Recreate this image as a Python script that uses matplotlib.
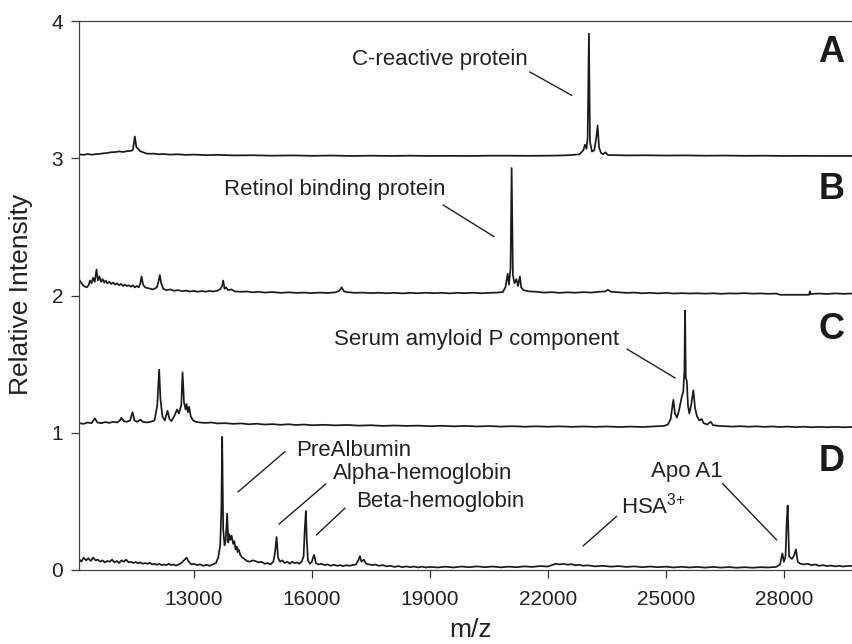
import matplotlib
matplotlib.use("Agg")
import matplotlib.pyplot as plt

plt.rcParams["font.family"] = ["Liberation Sans", "DejaVu Sans"]
plt.rcParams["mathtext.fontset"] = "custom"
plt.rcParams["mathtext.rm"] = "Liberation Sans"
plt.rcParams["mathtext.it"] = "Liberation Sans"
plt.rcParams["mathtext.bf"] = "Liberation Sans:bold"

# spectra: (m/z, intensity above own baseline)
mzA = [10080, 10200, 10300, 10400, 10500, 10600, 10700, 10800, 10900, 11000, 11100, 11200, 11300,
       11400, 11450, 11500, 11540, 11580, 11620, 11700, 11800, 11900, 12000, 12100, 12200, 12400,
       12600, 12800, 13000, 13300, 13600, 14000, 14500, 15000, 15500, 16000, 16500, 17000, 17500,
       18000, 18500, 19000, 19500, 20000, 20500, 21000, 21500, 22000, 22400, 22600, 22800, 22900,
       22941, 22980, 23010, 23043, 23070, 23120, 23180, 23230, 23264, 23300, 23350, 23400, 23465,
       23520, 23700, 24000, 24500, 25000, 25500, 26000, 26500, 27000, 27500, 28000, 28500, 29000, 29730]
intA = [0.030, 0.026, 0.032, 0.027, 0.031, 0.033, 0.037, 0.040, 0.045, 0.046, 0.051, 0.047, 0.053,
        0.055, 0.062, 0.160, 0.080, 0.072, 0.055, 0.046, 0.035, 0.034, 0.035, 0.030, 0.032, 0.028,
        0.030, 0.026, 0.028, 0.024, 0.026, 0.022, 0.023, 0.020, 0.022, 0.019, 0.021, 0.018, 0.020,
        0.018, 0.020, 0.018, 0.019, 0.018, 0.020, 0.020, 0.019, 0.020, 0.022, 0.025, 0.030, 0.060,
        0.100, 0.070, 0.150, 0.910, 0.120, 0.050, 0.060, 0.150, 0.240, 0.080, 0.040, 0.030, 0.045,
        0.025, 0.024, 0.022, 0.023, 0.021, 0.022, 0.020, 0.021, 0.019, 0.020, 0.018, 0.019, 0.018, 0.018]

mzB = [10080, 10120, 10160, 10200, 10240, 10280, 10320, 10360, 10400, 10440, 10480, 10526, 10560,
       10600, 10640, 10680, 10720, 10760, 10800, 10850, 10900, 10950, 11000, 11050, 11100, 11150,
       11200, 11250, 11300, 11350, 11400, 11450, 11500, 11550, 11600, 11640, 11670, 11710, 11760,
       11820, 11900, 11950, 12000, 12060, 12100, 12135, 12170, 12220, 12300, 12400, 12500, 12600,
       12700, 12800, 12900, 13000, 13100, 13200, 13300, 13400, 13500, 13600, 13680, 13720, 13745,
       13780, 13820, 13870, 13950, 14050, 14200, 14350, 14500, 14650, 14800, 15000, 15200, 15400,
       15600, 15800, 16000, 16200, 16400, 16600, 16700, 16756, 16820, 16900, 17100, 17300, 17500,
       17700, 17900, 18100, 18300, 18500, 18700, 18900, 19100, 19300, 19500, 19700, 19900, 20100,
       20300, 20500, 20700, 20850, 20920, 20977, 21010, 21050, 21078, 21110, 21150, 21200, 21240,
       21289, 21320, 21380, 21450, 21550, 21700, 21900, 22100, 22300, 22500, 22700, 22900, 23100,
       23300, 23450, 23526, 23600, 23800, 24000, 24200, 24400, 24600, 24800, 25000, 25200, 25400,
       25600, 25800, 26000, 26200, 26400, 26600, 26800, 27000, 27200, 27400, 27600, 27800, 27900,
       28640, 28660, 28680, 28900, 29100, 29300, 29500, 29730]
intB = [0.120, 0.100, 0.085, 0.070, 0.065, 0.060, 0.075, 0.110, 0.090, 0.130, 0.100, 0.190, 0.110,
        0.140, 0.100, 0.120, 0.095, 0.110, 0.090, 0.100, 0.085, 0.095, 0.080, 0.090, 0.075, 0.085,
        0.070, 0.080, 0.070, 0.075, 0.065, 0.075, 0.060, 0.070, 0.060, 0.090, 0.140, 0.080, 0.060,
        0.055, 0.050, 0.045, 0.050, 0.060, 0.100, 0.150, 0.090, 0.050, 0.040, 0.045, 0.035, 0.040,
        0.032, 0.036, 0.030, 0.034, 0.028, 0.033, 0.029, 0.034, 0.030, 0.036, 0.050, 0.070, 0.110,
        0.050, 0.060, 0.040, 0.045, 0.030, 0.028, 0.030, 0.024, 0.028, 0.022, 0.026, 0.020, 0.024,
        0.020, 0.022, 0.018, 0.022, 0.019, 0.024, 0.035, 0.060, 0.030, 0.025, 0.020, 0.022, 0.018,
        0.021, 0.017, 0.020, 0.016, 0.020, 0.017, 0.021, 0.018, 0.020, 0.016, 0.020, 0.018, 0.021,
        0.017, 0.020, 0.022, 0.025, 0.060, 0.160, 0.080, 0.200, 0.930, 0.150, 0.090, 0.120, 0.070,
        0.140, 0.060, 0.040, 0.035, 0.030, 0.028, 0.022, 0.025, 0.020, 0.024, 0.021, 0.025, 0.022,
        0.028, 0.030, 0.042, 0.028, 0.024, 0.020, 0.022, 0.017, 0.020, 0.016, 0.020, 0.015, 0.018,
        0.015, 0.017, 0.014, 0.017, 0.013, 0.016, 0.015, 0.018, 0.014, 0.016, 0.013, 0.015, 0.006,
        0.006, 0.030, 0.012, 0.015, 0.012, 0.016, 0.013, 0.015]

mzC = [10080, 10200, 10300, 10400, 10483, 10550, 10650, 10750, 10850, 10950, 11050, 11120, 11161,
       11220, 11300, 11380, 11441, 11490, 11560, 11640, 11700, 11800, 11900, 12000, 12070, 12118,
       12150, 12200, 12260, 12331, 12380, 12430, 12500, 12575, 12620, 12680, 12713, 12750, 12790,
       12814, 12850, 12880, 12920, 12980, 13050, 13150, 13300, 13450, 13600, 13800, 14000, 14200,
       14400, 14600, 14800, 15000, 15200, 15400, 15600, 15800, 16000, 16300, 16600, 16900, 17200,
       17500, 17800, 18100, 18400, 18700, 19000, 19300, 19600, 19900, 20200, 20500, 20800, 21100,
       21400, 21700, 22000, 22300, 22600, 22900, 23200, 23500, 23800, 24100, 24400, 24700, 24950,
       25050, 25120, 25188, 25230, 25280, 25330, 25401, 25440, 25470, 25486, 25505, 25530, 25560,
       25595, 25640, 25697, 25740, 25790, 25850, 25910, 25960, 26050, 26139, 26200, 26350, 26500,
       26700, 26900, 27100, 27300, 27500, 27700, 27900, 28100, 28300, 28500, 28700, 28900, 29100,
       29300, 29500, 29730]
intC = [0.070, 0.065, 0.075, 0.070, 0.105, 0.075, 0.070, 0.078, 0.072, 0.080, 0.075, 0.090, 0.110,
        0.085, 0.080, 0.090, 0.150, 0.090, 0.080, 0.095, 0.080, 0.075, 0.080, 0.090, 0.200, 0.460,
        0.250, 0.120, 0.090, 0.160, 0.100, 0.085, 0.120, 0.170, 0.140, 0.200, 0.440, 0.220, 0.170,
        0.210, 0.150, 0.190, 0.120, 0.090, 0.080, 0.075, 0.072, 0.075, 0.068, 0.070, 0.065, 0.068,
        0.062, 0.066, 0.060, 0.063, 0.058, 0.062, 0.057, 0.060, 0.055, 0.058, 0.054, 0.057, 0.052,
        0.055, 0.050, 0.053, 0.050, 0.052, 0.048, 0.051, 0.047, 0.050, 0.046, 0.049, 0.045, 0.048,
        0.044, 0.047, 0.044, 0.047, 0.043, 0.046, 0.043, 0.046, 0.042, 0.045, 0.042, 0.046, 0.050,
        0.060, 0.100, 0.240, 0.140, 0.110, 0.160, 0.260, 0.300, 0.450, 0.890, 0.400, 0.380, 0.200,
        0.140, 0.200, 0.310, 0.180, 0.120, 0.090, 0.100, 0.070, 0.060, 0.080, 0.055, 0.050, 0.048,
        0.045, 0.048, 0.044, 0.047, 0.043, 0.046, 0.042, 0.045, 0.041, 0.044, 0.040, 0.043, 0.040,
        0.043, 0.040, 0.042]

mzD = [10080, 10140, 10200, 10260, 10320, 10380, 10440, 10500, 10560, 10620, 10680, 10740, 10800,
       10860, 10920, 10980, 11040, 11100, 11160, 11220, 11280, 11340, 11400, 11460, 11520, 11580,
       11640, 11700, 11760, 11820, 11880, 11940, 12000, 12060, 12120, 12180, 12240, 12300, 12360,
       12420, 12480, 12540, 12600, 12680, 12750, 12814, 12870, 12940, 13000, 13080, 13160, 13240,
       13320, 13400, 13480, 13560, 13620, 13670, 13700, 13720, 13745, 13780, 13810, 13847, 13875,
       13900, 13930, 13960, 13999, 14030, 14060, 14090, 14111, 14140, 14180, 14230, 14290, 14350,
       14420, 14500, 14560, 14640, 14720, 14800, 14880, 14950, 15020, 15060, 15103, 15140, 15190,
       15250, 15310, 15380, 15440, 15500, 15560, 15620, 15680, 15740, 15790, 15820, 15848, 15870,
       15900, 15950, 16000, 16030, 16059, 16100, 16160, 16240, 16320, 16400, 16480, 16560, 16640,
       16720, 16800, 16880, 16960, 17040, 17120, 17180, 17221, 17260, 17320, 17380, 17460, 17540,
       17620, 17700, 17800, 17900, 18000, 18100, 18200, 18300, 18400, 18500, 18600, 18700, 18800,
       18900, 19000, 19200, 19400, 19600, 19800, 20000, 20200, 20400, 20600, 20800, 21000, 21200,
       21400, 21600, 21800, 22000, 22100, 22200, 22300, 22400, 22500, 22600, 22700, 22800, 22900,
       23000, 23200, 23400, 23600, 23800, 24000, 24200, 24400, 24600, 24800, 25000, 25200, 25400,
       25600, 25800, 26000, 26200, 26400, 26600, 26800, 27000, 27200, 27400, 27600, 27800, 27900,
       27960, 28000, 28040, 28070, 28095, 28130, 28200, 28250, 28306, 28350, 28420, 28500, 28600,
       28700, 28800, 28900, 29000, 29100, 29200, 29300, 29400, 29500, 29600, 29730]
intD = [0.080, 0.060, 0.090, 0.070, 0.085, 0.065, 0.090, 0.070, 0.075, 0.060, 0.070, 0.055, 0.065,
        0.060, 0.075, 0.055, 0.065, 0.050, 0.070, 0.060, 0.075, 0.055, 0.060, 0.050, 0.058, 0.048,
        0.055, 0.045, 0.050, 0.045, 0.052, 0.040, 0.045, 0.038, 0.045, 0.035, 0.040, 0.035, 0.045,
        0.035, 0.040, 0.032, 0.038, 0.050, 0.070, 0.090, 0.060, 0.040, 0.045, 0.035, 0.040, 0.030,
        0.038, 0.030, 0.040, 0.050, 0.090, 0.180, 0.450, 0.970, 0.300, 0.180, 0.220, 0.410, 0.200,
        0.260, 0.220, 0.250, 0.190, 0.210, 0.150, 0.170, 0.130, 0.150, 0.110, 0.090, 0.080, 0.065,
        0.060, 0.070, 0.065, 0.055, 0.060, 0.045, 0.050, 0.040, 0.060, 0.120, 0.240, 0.090, 0.060,
        0.070, 0.050, 0.060, 0.045, 0.060, 0.050, 0.055, 0.045, 0.060, 0.100, 0.300, 0.430, 0.220,
        0.070, 0.045, 0.060, 0.090, 0.110, 0.050, 0.040, 0.045, 0.035, 0.040, 0.030, 0.038, 0.030,
        0.035, 0.028, 0.035, 0.030, 0.036, 0.040, 0.070, 0.100, 0.060, 0.075, 0.045, 0.040, 0.035,
        0.040, 0.030, 0.035, 0.026, 0.030, 0.022, 0.028, 0.020, 0.026, 0.020, 0.025, 0.018, 0.024,
        0.018, 0.022, 0.018, 0.024, 0.018, 0.025, 0.020, 0.026, 0.020, 0.025, 0.019, 0.024, 0.020,
        0.026, 0.022, 0.028, 0.025, 0.035, 0.045, 0.040, 0.045, 0.038, 0.042, 0.034, 0.038, 0.030,
        0.034, 0.026, 0.030, 0.024, 0.028, 0.022, 0.026, 0.020, 0.025, 0.020, 0.024, 0.018, 0.023,
        0.018, 0.022, 0.017, 0.022, 0.017, 0.021, 0.016, 0.020, 0.016, 0.020, 0.018, 0.022, 0.040,
        0.120, 0.060, 0.100, 0.350, 0.470, 0.100, 0.080, 0.100, 0.150, 0.060, 0.045, 0.040, 0.045,
        0.035, 0.040, 0.030, 0.035, 0.028, 0.032, 0.026, 0.030, 0.025, 0.028, 0.030]

panels = ["A", "B", "C", "D"]
offsets = [3, 2, 1, 0]
xticks = [13000, 16000, 19000, 22000, 25000, 28000]
yticks = [0, 1, 2, 3, 4]

# label text, text anchor (m/z, y, ha), leader line from -> to
labels = [
    ("C-reactive protein", 21500, 3.72, "right", (21543, 3.63), (22603, 3.46)),
    ("Retinol binding protein", 19400, 2.77, "right", (19339, 2.66), (20628, 2.43)),
    ("Serum amyloid P component", 23800, 1.68, "right", (24013, 1.61), (25230, 1.40)),
    ("PreAlbumin", 15610, 0.874, "left", (15314, 0.862), (14127, 0.57)),
    ("Alpha-hemoglobin", 16540, 0.70, "left", (16356, 0.627), (15169, 0.335)),
    ("Beta-hemoglobin", 17135, 0.50, "left", (16839, 0.45), (16115, 0.255)),
    ("HSA$^{3{+}}$", 23860, 0.47, "left", (23744, 0.39), (22896, 0.175)),
    ("Apo A1", 24630, 0.716, "left", (26438, 0.63), (27810, 0.22)),
]
letter_y = [3.77, 2.77, 1.75, 0.79]

fig = plt.figure(figsize=(8.52, 6.44), dpi=100)
ax = fig.add_axes([0.0927, 0.115, 0.9073, 0.852])

spectra = [(mzA, intA), (mzB, intB), (mzC, intC), (mzD, intD)]
for (mz, inten), off in zip(spectra, offsets):
    ax.plot(mz, [v + off for v in inten], color="#1a1a1a", linewidth=1.25)

for txt, tx, ty, ha, p0, p1 in labels:
    ax.text(tx, ty, txt, ha=ha, va="center", fontsize=16, color="#222222")
    ax.plot([p0[0], p1[0]], [p0[1], p1[1]], color="#222222", linewidth=1.0)

for p, ly in zip(panels, letter_y):
    ax.text(29530, ly, p, ha="right", va="center", fontsize=26, fontweight="bold", color="#1a1a1a")

ax.set_xlim(10080, 29730)
ax.set_ylim(0, 4)
ax.set_xticks(xticks)
ax.set_yticks(yticks)
ax.tick_params(axis="both", direction="out", length=5.5, width=0.9, labelsize=15,
               colors="#333333", labelcolor="#222222")
ax.tick_params(axis="x", pad=9)
ax.tick_params(axis="y", pad=6)
ax.spines["right"].set_visible(False)
for s in ["left", "bottom", "top"]:
    ax.spines[s].set_color("#444444")
    ax.spines[s].set_linewidth(0.9)

ax.set_xlabel("m/z", fontsize=19, color="#222222")
ax.set_ylabel("Relative Intensity", fontsize=19, color="#222222")
ax.xaxis.set_label_coords(0.506, -0.087)
ax.yaxis.set_label_coords(-0.059, 0.503)

fig.savefig("out.png", dpi=100)
